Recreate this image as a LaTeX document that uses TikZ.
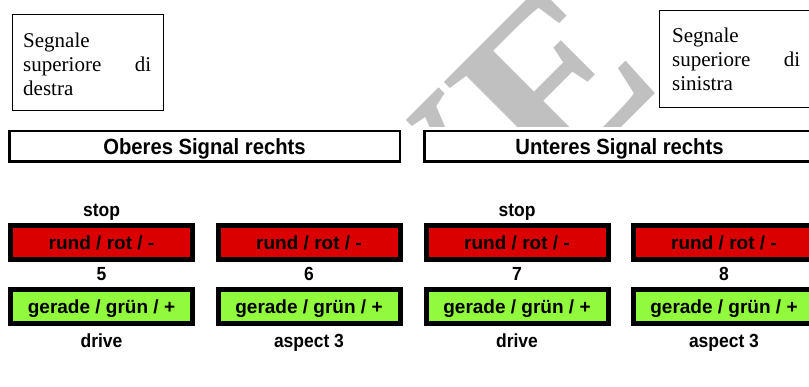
\documentclass[tikz,border=0pt]{standalone}
\usepackage{fontspec}
\setmainfont{Liberation Serif}
\newfontfamily\lblfont[FakeStretch=0.92]{Liberation Sans}
\newfontfamily\lampfont{Liberation Sans}
\definecolor{sigred}{RGB}{218,0,0}
\definecolor{siggreen}{RGB}{145,250,60}
\definecolor{wmgrey}{RGB}{192,192,192}

\tikzset{
  notebox/.style={draw=black, line width=0.9pt, anchor=north west, inner sep=0pt},
  notetext/.style={anchor=north west, inner sep=0pt, text width=128pt,
    font=\fontsize{21}{24}\selectfont},
  headbox/.style={draw=black, line width=2.5pt, inner sep=0pt,
    minimum width=390.5pt, minimum height=30.5pt, text height=16pt, text depth=0pt,
    font=\lblfont\bfseries\fontsize{22}{24}\selectfont},
  lampbox/.style={draw=black, line width=5pt, inner sep=0pt,
    minimum width=182pt, minimum height=34pt, text height=13.5pt, text depth=0pt,
    font=\lampfont\bfseries\fontsize{19}{22}\selectfont},
  redlamp/.style={lampbox, fill=sigred},
  greenlamp/.style={lampbox, fill=siggreen},
  tag/.style={anchor=base, inner sep=0pt, font=\lblfont\bfseries\fontsize{19}{22}\selectfont},
  wmark/.style={rotate=45, inner sep=0pt, text=wmgrey,
    font=\bfseries\fontsize{240}{240}\selectfont}
}

\begin{document}
\begin{tikzpicture}[x=1pt, y=-1pt]
\useasboundingbox (0,0) rectangle (809,387);

% faint watermark lettering behind the upper part
\begin{scope}
  \clip (0,0) rectangle (809,127);
  \coordinate (wmbase) at (552,197);
  \node[wmark, anchor=base east] (wmV) at (wmbase) {V};
  \node[wmark, anchor=base west] (wmE) at (wmbase) {E};
\end{scope}

% Italian notes
\node[notebox, minimum width=151pt, minimum height=96pt] (noteL) at (12,14) {};
\node[notetext] (noteLtext) at (23,32.4) {Segnale\\ superiore\hfill di\\ destra};
\node[notebox, minimum width=151pt, minimum height=97pt] (noteR) at (659,10) {};
\node[notetext] (noteRtext) at (672,27.7) {Segnale\\ superiore\hfill di\\ sinistra};

% section headers
\node[headbox] (hdrA) at (204.5,146.5) {Oberes Signal rechts};
\node[headbox] (hdrB) at (619.5,146.5) {Unteres Signal rechts};

% signal lamps: red above, green below
\foreach \cx/\num/\top/\bottom [count=\i] in
    {101.5/5/stop/drive, 309/6//aspect 3, 517/7/stop/drive, 724/8//aspect 3} {
  \node[tag] (top\i) at (\cx,217) {\top};
  \node[redlamp] (red\i) at (\cx,242.5) {rund / rot / -};
  \node[tag] (num\i) at (\cx,281) {\num};
  \node[greenlamp] (green\i) at (\cx,307) {gerade / grün / +};
  \node[tag] (bot\i) at (\cx,348) {\bottom};
}
\end{tikzpicture}
\end{document}
